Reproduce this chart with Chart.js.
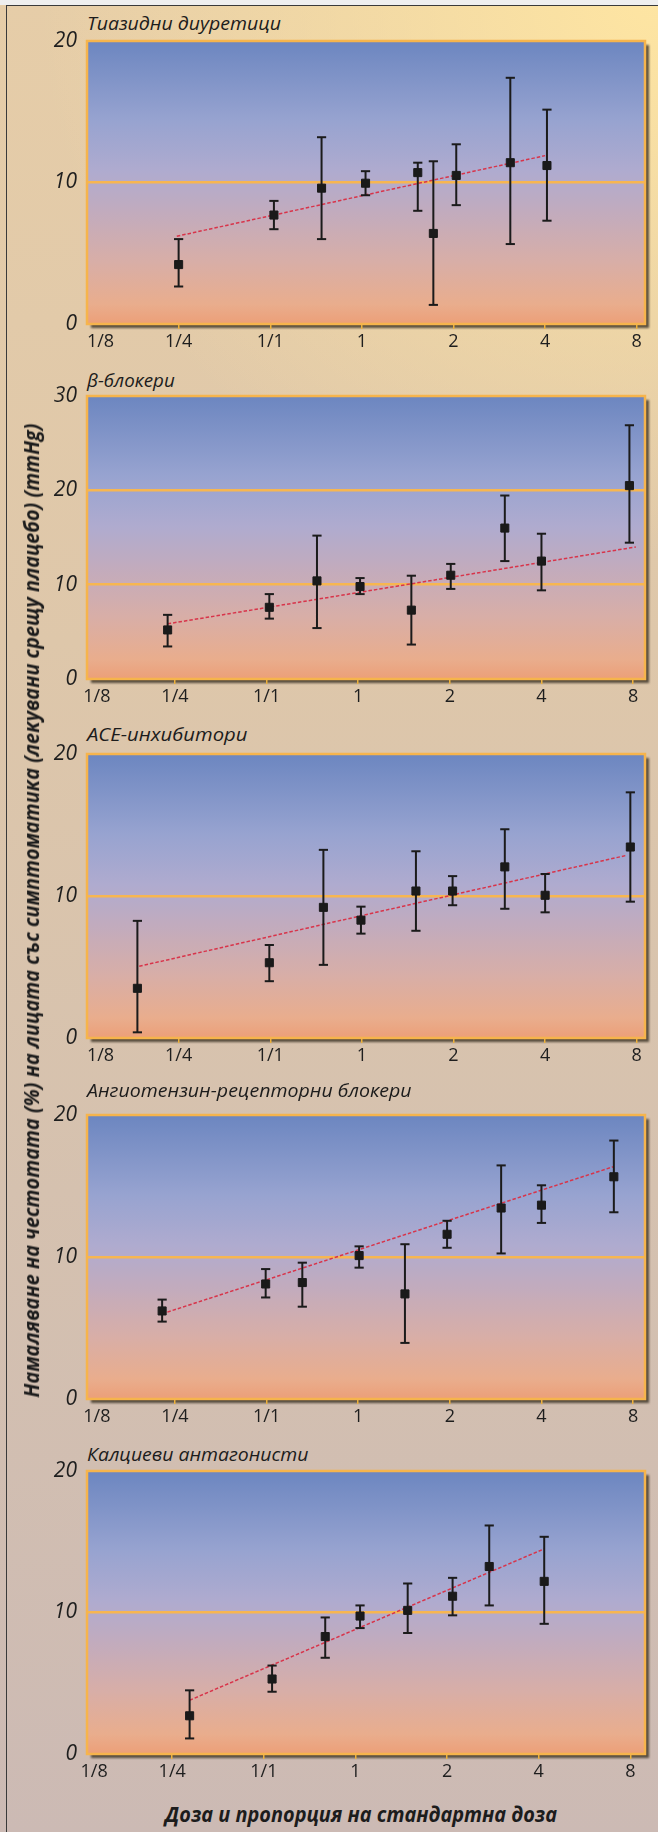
<!DOCTYPE html>
<html><head><meta charset="utf-8">
<script src="https://cdn.jsdelivr.net/npm/chart.js@4.4.1/dist/chart.umd.min.js"></script>
<style>
html,body{margin:0;padding:0;background:#fff;}
#page{position:relative;width:658px;height:1832px;overflow:hidden;
 background:
  radial-gradient(ellipse 620px 560px at 100% 0%, rgba(254,229,162,1) 0%, rgba(254,229,162,0.55) 45%, rgba(254,229,162,0) 100%),
  linear-gradient(180deg, #E6CDA8 0%, #DEC7AA 35%, #D5C1AF 65%, #CCBAB4 100%);}
#topstrip{position:absolute;left:0;top:0;width:658px;height:5px;background:#EFEFEF;}
#frameTop{position:absolute;left:6px;top:5px;width:652px;height:1px;background:#3a3a3a;}
#frameLeft{position:absolute;left:6px;top:5px;width:1px;height:1827px;background:#3a3a3a;}
canvas{position:absolute;left:0;}
.ttl{position:absolute;font-family:'Open Sans',sans-serif;font-style:italic;color:#1c1c1c;white-space:nowrap;line-height:1;transform-origin:0 0;}
#ytitle{position:absolute;font-family:'Open Sans',sans-serif;font-style:italic;font-weight:700;font-size:21px;color:#1c1c1c;white-space:nowrap;line-height:1;}
</style></head>
<body>
<div id="page">
<div id="topstrip"></div><div id="frameTop"></div><div id="frameLeft"></div>
</div>
<script>
// ---- data (x = log2 of dose proportion) ----
const xTickVals = [-3, -2, -1, 0, 1, 2, 3];
const xTickLabels = ['1/8', '1/4', '1/1', '1', '2', '4', '8'];

const chartTitles = ['Тиазидни диуретици', 'β-блокери', 'ACE-инхибитори', 'Ангиотензин-рецепторни блокери', 'Калциеви антагонисти'];
const yMaxes = [20, 30, 20, 20, 20];

const tdDose = [-2.0, -0.96, -0.44, 0.04, 0.61, 0.78, 1.03, 1.62, 2.02];
const tdMean = [4.2, 7.7, 9.6, 9.95, 10.7, 6.4, 10.5, 11.4, 11.2];
const tdLow  = [2.65, 6.7, 6.0, 9.1, 8.0, 1.35, 8.4, 5.65, 7.3];
const tdHigh = [6.0, 8.7, 13.2, 10.8, 11.4, 11.5, 12.7, 17.4, 15.15];
const tdTrendX = [-2.02, 2.0];
const tdTrendY = [6.2, 11.9];

const bbDose = [-2.08, -0.97, -0.45, 0.02, 0.58, 1.01, 1.6, 2.0, 2.96];
const bbMean = [5.2, 7.6, 10.4, 9.8, 7.3, 11.0, 16.0, 12.5, 20.5];
const bbLow  = [3.45, 6.4, 5.4, 9.0, 3.65, 9.55, 12.5, 9.4, 14.45];
const bbHigh = [6.8, 9.0, 15.2, 10.7, 10.95, 12.2, 19.45, 15.4, 26.9];
const bbTrendX = [-2.08, 3.03];
const bbTrendY = [5.85, 14.0];

const aceDose = [-2.45, -1.01, -0.42, -0.01, 0.59, 0.99, 1.56, 2.0, 2.93];
const aceMean = [3.5, 5.3, 9.2, 8.3, 10.35, 10.35, 12.05, 10.05, 13.45];
const aceLow  = [0.4, 4.0, 5.15, 7.35, 7.55, 9.35, 9.1, 8.85, 9.6];
const aceHigh = [8.25, 6.55, 13.25, 9.25, 13.15, 11.4, 14.7, 11.55, 17.3];
const aceTrendX = [-2.43, 2.88];
const aceTrendY = [5.05, 12.85];

const arbDose = [-2.14, -1.01, -0.61, 0.01, 0.51, 0.97, 1.56, 2.0, 2.79];
const arbMean = [6.2, 8.1, 8.2, 10.1, 7.4, 11.6, 13.45, 13.65, 15.65];
const arbLow  = [5.45, 7.15, 6.5, 9.25, 3.95, 10.65, 10.25, 12.4, 13.15];
const arbHigh = [7.0, 9.15, 9.6, 10.75, 10.9, 12.55, 16.45, 15.05, 18.2];
const arbTrendX = [-2.14, 2.78];
const arbTrendY = [6.0, 16.35];

const ccbDose = [-1.81, -0.91, -0.33, 0.05, 0.57, 1.06, 1.46, 2.06];
const ccbMean = [2.7, 5.3, 8.3, 9.75, 10.15, 11.15, 13.25, 12.2];
const ccbLow  = [1.1, 4.4, 6.8, 8.9, 8.55, 9.8, 10.5, 9.2];
const ccbHigh = [4.5, 6.25, 9.65, 10.5, 12.05, 12.45, 16.15, 15.35];
const ccbTrendX = [-1.81, 2.06];
const ccbTrendY = [3.8, 14.5];

const yAxisTitle = 'Намаляване на честотата (%) на лицата със симптоматика (лекувани срещу плацебо) (mmHg)';
const xAxisTitle = 'Доза и пропорция на стандартна доза';

// ---- layout ----
const plotTops    = [41, 396, 754, 1115, 1471];
const plotBottoms = [324, 679, 1038, 1399, 1754];
const titleBase   = [31, 388, 742, 1098, 1462];
const titleWidths = [194, 88, 160, 325, 222];
const xMins = [-3.0, -2.96, -3.0, -2.96, -2.93];
const xMaxs = [3.09, 3.13, 3.09, 3.13, 3.16];
const PADT = 24, XAXH = 40, YAXW = 87, PADR = 13;

const page = document.getElementById('page');

const framePlugin = {
  id: 'frame',
  beforeDraw(chart) {
    const {ctx, chartArea: a} = chart;
    ctx.save();
    ctx.filter = 'blur(1.3px)';
    ctx.fillStyle = 'rgba(70,60,45,0.88)';
    ctx.fillRect(a.left + 4, a.top + 4, a.width, a.height);
    ctx.filter = 'none';
    const g = ctx.createLinearGradient(0, a.top, 0, a.bottom);
    g.addColorStop(0, '#6C86C0');
    g.addColorStop(0.28, '#97A3D0');
    g.addColorStop(0.46, '#AFABCF');
    g.addColorStop(0.6, '#C1ABBE');
    g.addColorStop(0.78, '#D8AEA7');
    g.addColorStop(0.93, '#E9AD8D');
    g.addColorStop(1, '#EC9F78');
    ctx.fillStyle = g;
    ctx.fillRect(a.left, a.top, a.width, a.height);
    ctx.restore();
  },
  beforeDatasetsDraw(chart) {
    const {ctx, chartArea: a} = chart;
    ctx.save();
    ctx.strokeStyle = '#F6B44C';
    ctx.lineWidth = 2.5;
    ctx.strokeRect(a.left, a.top, a.width, a.height);
    ctx.restore();
  }
};

function makeChart(i, dose, mean, low, high, trendX, trendY) {
  const h = plotBottoms[i] - plotTops[i] + PADT + XAXH;
  const cv = document.createElement('canvas');
  cv.width = 658; cv.height = h;
  cv.style.width = '658px'; cv.style.height = h + 'px';
  cv.style.top = (plotTops[i] - PADT) + 'px';
  page.appendChild(cv);

  const whisk = [];
  dose.forEach((d, k) => { whisk.push({x: d, y: low[k]}, {x: d, y: high[k]}, {x: d, y: null}); });
  const pts = dose.map((d, k) => ({x: d, y: mean[k]}));
  const trend = trendX.map((x, k) => ({x: x, y: trendY[k]}));
  const yMax = yMaxes[i];

  new Chart(cv, {
    type: 'scatter',
    data: { datasets: [
      { type: 'line', data: trend, borderColor: '#D8344A', borderWidth: 1.5, borderDash: [3.5, 2], pointRadius: 0, order: 3 },
      { type: 'line', data: whisk, borderColor: '#1b1b1b', borderWidth: 2, pointStyle: 'line', pointRadius: 4.6,
        pointBorderWidth: 2, pointBorderColor: '#1b1b1b', pointBackgroundColor: '#1b1b1b', spanGaps: false, order: 2 },
      { type: 'scatter', data: pts, pointStyle: 'rect', pointRadius: 5.7, backgroundColor: '#1a1a1a',
        borderColor: '#1a1a1a', borderWidth: 1, order: 1 }
    ]},
    options: {
      responsive: false, animation: false, devicePixelRatio: 1,
      layout: { padding: { top: PADT, right: PADR, left: 0, bottom: 0 } },
      plugins: { legend: { display: false }, tooltip: { enabled: false } },
      scales: {
        x: {
          type: 'linear', min: xMins[i], max: xMaxs[i],
          afterBuildTicks: s => { s.ticks = xTickVals.map(v => ({ value: v })); },
          afterFit: s => { s.height = XAXH; },
          grid: { drawOnChartArea: false, drawTicks: true, tickLength: 5, lineWidth: 1.5,
                  color: '#EDB13C',
                  tickColor: c => (c.tick && c.tick.value === -3) ? 'rgba(0,0,0,0)' : '#EDB13C' },
          border: { display: false },
          ticks: { padding: 2, color: '#1e1e1e', autoSkip: false, maxRotation: 0,
                   font: { family: 'Open Sans', size: 18 },
                   callback: v => { const k = xTickVals.indexOf(v); const t = xTickLabels[k]; return k === 0 ? '\u2002\u2002\u2002' + t : t; } }
        },
        y: {
          min: 0, max: yMax,
          afterFit: s => { s.width = YAXW; },
          grid: { drawTicks: false, lineWidth: 2.5,
                  color: c => (c.tick && c.tick.value > 0 && c.tick.value < yMax) ? '#F7B650' : 'rgba(0,0,0,0)' },
          border: { display: false },
          ticks: { stepSize: 10, padding: 10, color: '#1e1e1e',
                   font: { family: 'Open Sans', style: 'italic', size: 21 } }
        }
      }
    },
    plugins: [framePlugin]
  });

  // chart title
  const t = document.createElement('div');
  t.className = 'ttl';
  t.textContent = chartTitles[i];
  t.style.fontSize = '19px';
  t.style.left = '87px';
  t.style.top = (titleBase[i] - 0.888 * 19) + 'px';
  page.insertBefore(t, cv);
  const w = t.offsetWidth;
  t.style.transform = 'scaleX(' + (titleWidths[i] / w) + ')';
}

makeChart(0, tdDose, tdMean, tdLow, tdHigh, tdTrendX, tdTrendY);
makeChart(1, bbDose, bbMean, bbLow, bbHigh, bbTrendX, bbTrendY);
makeChart(2, aceDose, aceMean, aceLow, aceHigh, aceTrendX, aceTrendY);
makeChart(3, arbDose, arbMean, arbLow, arbHigh, arbTrendX, arbTrendY);
makeChart(4, ccbDose, ccbMean, ccbLow, ccbHigh, ccbTrendX, ccbTrendY);

// y axis title (rotated)
const yt = document.createElement('div');
yt.id = 'ytitle';
yt.textContent = yAxisTitle;
page.appendChild(yt);
const yw = yt.offsetWidth, yh = yt.offsetHeight;
yt.style.left = (31 - yw / 2) + 'px';
yt.style.top = (910 - yh / 2) + 'px';
yt.style.transform = 'rotate(-90deg) scaleX(' + (974 / yw) + ')';

// x axis title
const xt = document.createElement('div');
xt.id = 'xtitle';
xt.className = 'ttl';
xt.style.fontWeight = '700';
xt.style.fontSize = '21px';
xt.textContent = xAxisTitle;
page.appendChild(xt);
const xw = xt.offsetWidth;
xt.style.transformOrigin = '50% 0';
xt.style.left = (361 - xw / 2) + 'px';
xt.style.top = (1823 - 0.888 * 21) + 'px';
xt.style.transform = 'scaleX(' + (392 / xw) + ')';
</script>
</body></html>
